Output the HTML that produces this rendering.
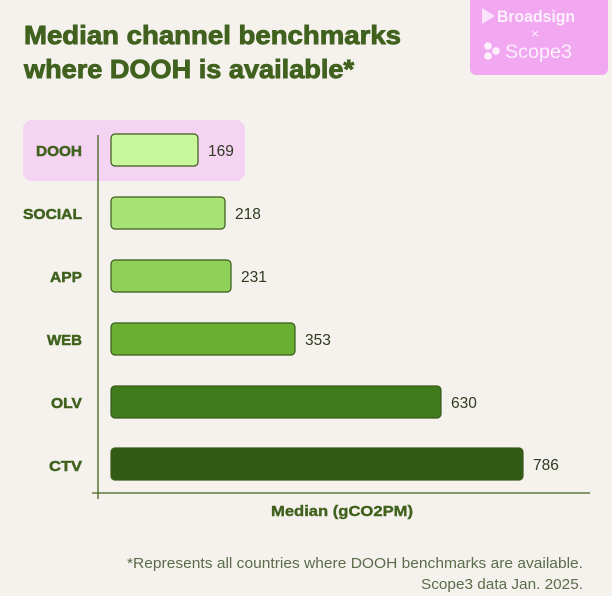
<!DOCTYPE html>
<html><head><meta charset="utf-8"><style>
html,body{margin:0;padding:0;background:#f5f2ed;}
svg{display:block;font-family:"Liberation Sans",sans-serif;}
</style></head><body>
<svg width="612" height="596" viewBox="0 0 612 596" xmlns="http://www.w3.org/2000/svg">
<rect width="612" height="596" fill="#f5f2ed"/>
<g font-size="26" font-weight="bold" fill="#41621e" stroke="#41621e" stroke-width="0.9">
<text x="24" y="44" textLength="377" lengthAdjust="spacingAndGlyphs">Median channel benchmarks</text>
<text x="24" y="78" textLength="330" lengthAdjust="spacingAndGlyphs">where DOOH is available*</text></g>
<rect x="470" y="-6" width="138" height="81" rx="6" fill="#f1a8f1"/>
<polygon points="482,8 482,24 495,16" fill="#fbe3fb"/>
<text x="497" y="22" font-size="17" font-weight="bold" fill="#fdf0fd" textLength="78" lengthAdjust="spacingAndGlyphs">Broadsign</text>
<text x="535" y="38" font-size="13" fill="#fdf0fd" text-anchor="middle">×</text>
<circle cx="488" cy="46" r="3.8" fill="#fdf0fd"/><circle cx="488" cy="56" r="3.8" fill="#fdf0fd"/><circle cx="496" cy="51" r="3.8" fill="#fdf0fd"/>
<text x="505" y="58" font-size="19" fill="#fdf0fd" textLength="67" lengthAdjust="spacingAndGlyphs">Scope3</text>
<rect x="23" y="120" width="222" height="61" rx="9" fill="#f5d3f2"/>
<line x1="98" y1="135" x2="98" y2="499" stroke="#41621e" stroke-width="1.3"/>
<line x1="92" y1="493" x2="590" y2="493" stroke="#41621e" stroke-width="1.3"/>
<g font-size="15" font-weight="bold" fill="#41621e" stroke="#41621e" stroke-width="0.5" text-anchor="end">
<text x="82" y="156" textLength="46" lengthAdjust="spacingAndGlyphs">DOOH</text>
<text x="82" y="219" textLength="59" lengthAdjust="spacingAndGlyphs">SOCIAL</text>
<text x="82" y="282" textLength="32" lengthAdjust="spacingAndGlyphs">APP</text>
<text x="82" y="345" textLength="35" lengthAdjust="spacingAndGlyphs">WEB</text>
<text x="82" y="408" textLength="31" lengthAdjust="spacingAndGlyphs">OLV</text>
<text x="82" y="471" textLength="33" lengthAdjust="spacingAndGlyphs">CTV</text></g>
<g stroke="#3a5a1a" stroke-width="1.2">
<rect x="111" y="134" width="87" height="32" rx="4" fill="#c9f79b"/>
<rect x="111" y="197" width="114" height="32" rx="4" fill="#a8e475"/>
<rect x="111" y="260" width="120" height="32" rx="4" fill="#8fd05a"/>
<rect x="111" y="323" width="184" height="32" rx="4" fill="#68af32"/>
<rect x="111" y="386" width="330" height="32" rx="4" fill="#3f7a1b"/>
<rect x="111" y="448" width="412" height="32" rx="4" fill="#325c15"/></g>
<g font-size="15.5" fill="#2f3a22">
<text x="208" y="156">169</text><text x="235" y="219">218</text><text x="241" y="282">231</text>
<text x="305" y="345">353</text><text x="451" y="408">630</text><text x="533" y="470">786</text></g>
<text x="271" y="516" font-size="15" font-weight="bold" fill="#41621e" stroke="#41621e" stroke-width="0.4" textLength="142" lengthAdjust="spacingAndGlyphs">Median (gCO2PM)</text>
<g font-size="14.5" fill="#5b6b4b">
<text x="127" y="568" textLength="456" lengthAdjust="spacingAndGlyphs">*Represents all countries where DOOH benchmarks are available.</text>
<text x="421" y="589" textLength="162" lengthAdjust="spacingAndGlyphs">Scope3 data Jan. 2025.</text></g>
</svg>
</body></html>
